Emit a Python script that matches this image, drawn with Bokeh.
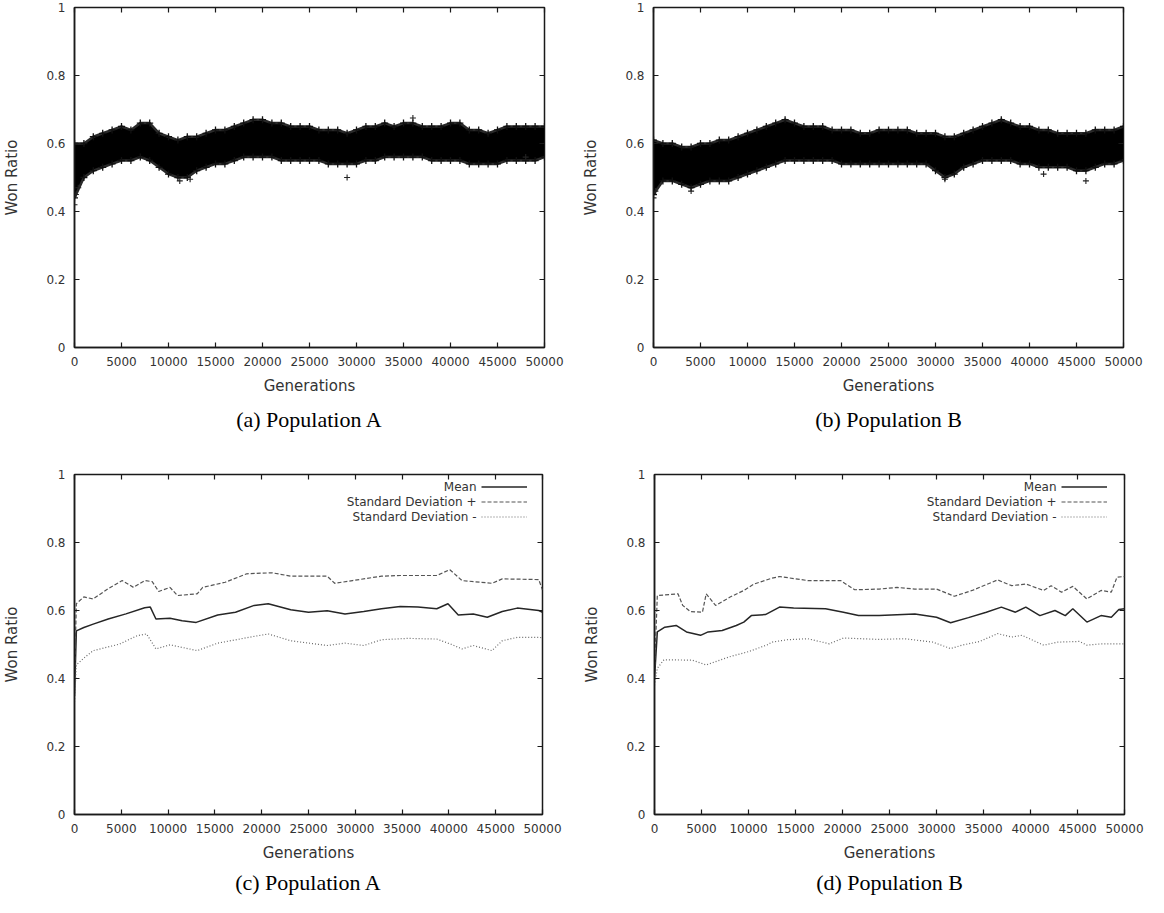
from bokeh.plotting import figure
from bokeh.layouts import column, row
from bokeh.models import (LinearAxis, FixedTicker, CustomJSTickFormatter, Range1d,
                          Title, Legend, LegendItem, Label)
from bokeh.embed import file_html
from bokeh.resources import INLINE

# ---------------- data ----------------
x_ticks = [0, 5000, 10000, 15000, 20000, 25000, 30000, 35000, 40000, 45000, 50000]
x_tick_labels = ["0", "5000", "10000", "15000", "20000", "25000", "30000",
                 "35000", "40000", "45000", "50000"]
y_ticks = [0, 0.2, 0.4, 0.6, 0.8, 1]
y_tick_labels = ["0", "0.2", "0.4", "0.6", "0.8", "1"]

gens = list(range(0, 50001, 1000))

# Population A scatter: envelope of the dense cloud of points
a_upper = [0.60, 0.60, 0.62, 0.63, 0.64, 0.65, 0.64, 0.66, 0.66, 0.63, 0.62,
           0.61, 0.62, 0.62, 0.63, 0.64, 0.64, 0.65, 0.66, 0.67, 0.67,
           0.66, 0.66, 0.65, 0.65, 0.65, 0.64, 0.64, 0.64, 0.63, 0.64,
           0.65, 0.65, 0.66, 0.65, 0.66, 0.66, 0.65, 0.65, 0.65, 0.66,
           0.66, 0.64, 0.64, 0.63, 0.64, 0.65, 0.65, 0.65, 0.65, 0.65]
a_lower = [0.44, 0.50, 0.52, 0.53, 0.54, 0.55, 0.55, 0.56, 0.55, 0.53, 0.51,
           0.50, 0.50, 0.52, 0.53, 0.54, 0.54, 0.55, 0.56, 0.56, 0.56,
           0.56, 0.55, 0.55, 0.55, 0.55, 0.55, 0.54, 0.54, 0.54, 0.54,
           0.55, 0.55, 0.56, 0.56, 0.56, 0.56, 0.56, 0.55, 0.55, 0.55,
           0.55, 0.54, 0.54, 0.54, 0.54, 0.55, 0.55, 0.55, 0.55, 0.56]
a_out_x = [0, 150, 400, 11200, 12300, 29000, 36000, 48000]
a_out_y = [0.42, 0.45, 0.47, 0.49, 0.495, 0.50, 0.675, 0.56]

# Population B scatter envelope
b_upper = [0.61, 0.60, 0.60, 0.59, 0.59, 0.60, 0.60, 0.61, 0.61, 0.62, 0.63,
           0.64, 0.65, 0.66, 0.67, 0.66, 0.65, 0.65, 0.65, 0.64, 0.64,
           0.64, 0.63, 0.63, 0.64, 0.64, 0.64, 0.64, 0.63, 0.63, 0.63,
           0.62, 0.62, 0.63, 0.64, 0.65, 0.66, 0.67, 0.66, 0.65, 0.65,
           0.64, 0.64, 0.63, 0.63, 0.63, 0.63, 0.64, 0.64, 0.64, 0.65]
b_lower = [0.45, 0.49, 0.49, 0.48, 0.47, 0.48, 0.49, 0.49, 0.49, 0.50, 0.51,
           0.52, 0.53, 0.54, 0.55, 0.55, 0.55, 0.55, 0.55, 0.55, 0.54,
           0.54, 0.54, 0.54, 0.54, 0.54, 0.54, 0.54, 0.54, 0.54, 0.52,
           0.50, 0.51, 0.53, 0.54, 0.55, 0.55, 0.55, 0.55, 0.54, 0.54,
           0.53, 0.53, 0.53, 0.53, 0.52, 0.52, 0.53, 0.54, 0.54, 0.55]
b_out_x = [0, 200, 4000, 31000, 41500, 46000]
b_out_y = [0.44, 0.46, 0.46, 0.495, 0.51, 0.49]

# Population A statistics
c_mean_x = [0, 200, 1000, 2000, 3600, 5500, 7500, 8100, 8700, 10200, 11500, 13000,
            15300, 17200, 19200, 20700, 23100, 25000, 27000, 28900, 30900, 32800,
            34800, 36700, 38700, 39900, 41000, 42600, 44100, 45700, 47300, 49600, 50000]
c_mean_y = [0.35, 0.54, 0.55, 0.56, 0.575, 0.59, 0.608, 0.61, 0.575, 0.577, 0.57, 0.565,
            0.587, 0.595, 0.615, 0.62, 0.602, 0.595, 0.599, 0.59, 0.597, 0.605,
            0.612, 0.61, 0.605, 0.62, 0.587, 0.59, 0.58, 0.597, 0.607, 0.60, 0.595]
c_sdp_x = [0, 200, 1000, 2000, 3600, 5100, 6300, 7500, 8300, 9000, 10200, 11000,
           13100, 13700, 16100, 18400, 21100, 23100, 27000, 27800, 29700, 32800,
           34800, 38700, 40100, 41400, 44600, 45700, 49600, 50000]
c_sdp_y = [0.40, 0.62, 0.64, 0.634, 0.664, 0.688, 0.668, 0.688, 0.685, 0.656, 0.668, 0.644,
           0.649, 0.668, 0.683, 0.708, 0.711, 0.701, 0.701, 0.68, 0.688, 0.701,
           0.703, 0.703, 0.72, 0.688, 0.68, 0.693, 0.691, 0.66]
c_sdm_x = [0, 200, 1000, 2000, 4800, 6700, 7700, 8700, 10200, 13100, 15300, 19200,
           20700, 23100, 27000, 28900, 30900, 32800, 35600, 38700, 40200, 41400,
           42600, 44600, 45700, 47300, 49600, 50000]
c_sdm_y = [0.33, 0.44, 0.46, 0.482, 0.501, 0.526, 0.531, 0.487, 0.499, 0.482, 0.504, 0.524,
           0.531, 0.511, 0.497, 0.504, 0.497, 0.514, 0.518, 0.516, 0.501, 0.487,
           0.497, 0.482, 0.511, 0.521, 0.521, 0.52]

# Population B statistics
d_mean_x = [0, 300, 1100, 2300, 3400, 4900, 5700, 7200, 8700, 9500, 10300, 11800,
            13300, 14800, 18200, 20100, 21700, 23900, 27700, 30000, 31500, 33400,
            35300, 36900, 38400, 39500, 41000, 42600, 43700, 44500, 46000, 47500,
            48600, 49400, 50000]
d_mean_y = [0.40, 0.537, 0.551, 0.556, 0.537, 0.527, 0.537, 0.541, 0.556, 0.566, 0.585, 0.588,
            0.61, 0.607, 0.605, 0.595, 0.585, 0.585, 0.59, 0.58, 0.564, 0.579,
            0.595, 0.61, 0.595, 0.61, 0.585, 0.60, 0.585, 0.605, 0.566, 0.585,
            0.58, 0.603, 0.605]
d_sdp_x = [0, 300, 2500, 3000, 3800, 5100, 5500, 6500, 8000, 9500, 10600, 12500,
           13300, 16300, 19800, 21300, 23900, 25800, 27700, 30000, 31900, 33800,
           36500, 38000, 39500, 41400, 42200, 43300, 44500, 46000, 47500, 48600,
           49200, 50000]
d_sdp_y = [0.42, 0.644, 0.649, 0.615, 0.597, 0.595, 0.649, 0.615, 0.639, 0.659, 0.678, 0.695,
           0.70, 0.688, 0.688, 0.661, 0.663, 0.668, 0.663, 0.663, 0.642, 0.659,
           0.69, 0.673, 0.678, 0.659, 0.673, 0.654, 0.671, 0.634, 0.659, 0.654,
           0.698, 0.70]
d_sdm_x = [0, 300, 1000, 4000, 5500, 8000, 10000, 12000, 12500, 14100, 16300, 18600,
           20100, 23900, 26600, 29600, 31500, 32700, 34600, 36500, 38000, 39100,
           41400, 42900, 45200, 46000, 47500, 50000]
d_sdm_y = [0.38, 0.43, 0.455, 0.454, 0.44, 0.464, 0.479, 0.499, 0.507, 0.514, 0.517, 0.502,
           0.519, 0.515, 0.517, 0.507, 0.488, 0.498, 0.509, 0.532, 0.522, 0.527,
           0.498, 0.507, 0.509, 0.498, 0.502, 0.502]

legend_names = ["Mean", "Standard Deviation +", "Standard Deviation -"]
captions = ["(a) Population A", "(b) Population B", "(c) Population A", "(d) Population B"]

# ---------------- styling helpers ----------------
SANS = "DejaVu Sans"
TXT = "#333333"
FRAME = "#1a1a1a"
FW, FH = 470, 340   # plot-frame size in pixels


def base_fig(width, height, bl, br, bt, bb, caption, cap_standoff):
    p = figure(width=width, height=height, x_range=Range1d(0, 50000), y_range=Range1d(0, 1),
               output_backend="svg", toolbar_location=None,
               min_border_left=bl, min_border_right=br, min_border_top=bt, min_border_bottom=bb)
    p.grid.visible = False
    p.background_fill_color = "white"
    p.border_fill_color = "white"
    p.outline_line_color = FRAME
    p.outline_line_width = 1.5

    xf = CustomJSTickFormatter(args=dict(labels=x_tick_labels), code="return labels[index]")
    yf = CustomJSTickFormatter(args=dict(labels=y_tick_labels), code="return labels[index]")
    blank = CustomJSTickFormatter(code="return ''")

    for ax in p.xaxis:
        ax.ticker = FixedTicker(ticks=x_ticks)
        ax.formatter = xf
        ax.axis_label = "Generations"
    for ax in p.yaxis:
        ax.ticker = FixedTicker(ticks=y_ticks)
        ax.formatter = yf
        ax.axis_label = "Won Ratio"
    for ax in list(p.xaxis) + list(p.yaxis):
        ax.major_tick_in = 5
        ax.major_tick_out = 0
        ax.minor_tick_line_color = None
        ax.major_tick_line_color = FRAME
        ax.major_tick_line_width = 1.2
        ax.axis_line_color = FRAME
        ax.axis_line_width = 1.5
        ax.major_label_text_font = SANS
        ax.major_label_text_font_size = "12px"
        ax.major_label_text_color = TXT
        ax.axis_label_text_font = SANS
        ax.axis_label_text_font_size = "15px"
        ax.axis_label_text_font_style = "normal"
        ax.axis_label_text_color = TXT
    p.xaxis.major_label_standoff = 9
    p.xaxis.axis_label_standoff = 8
    p.yaxis.major_label_standoff = 9
    p.yaxis.axis_label_standoff = 22

    # mirrored tick marks (gnuplot style) on top and right
    top = LinearAxis(ticker=FixedTicker(ticks=x_ticks), formatter=blank,
                     major_tick_in=5, major_tick_out=0, minor_tick_line_color=None,
                     major_label_text_font_size="1px", major_label_standoff=0,
                     axis_line_color=None, major_tick_line_color=FRAME, major_tick_line_width=1.2)
    right = LinearAxis(ticker=FixedTicker(ticks=y_ticks), formatter=blank,
                       major_tick_in=5, major_tick_out=0, minor_tick_line_color=None,
                       major_label_text_font_size="1px", major_label_standoff=0,
                       axis_line_color=None, major_tick_line_color=FRAME, major_tick_line_width=1.2)
    p.add_layout(top, "above")
    p.add_layout(right, "right")

    # sub-figure caption below the axis title
    p.add_layout(Title(text=caption, align="center", text_font="Liberation Serif",
                       text_font_size="22px", text_font_style="normal", text_color="black",
                       standoff=cap_standoff), "below")
    return p


def scatter_panel(p, upper, lower, ox, oy):
    p.varea(x=gens, y1=lower, y2=upper, fill_color="black", fill_alpha=1.0)
    p.line(x=gens, y=upper, line_color="#2a2a2a", line_width=2.5)
    p.line(x=gens, y=lower, line_color="#2a2a2a", line_width=2.5)
    p.scatter(x=gens, y=upper, marker="cross", size=7, line_color="#111111", line_width=1.3)
    p.scatter(x=gens, y=lower, marker="cross", size=7, line_color="#111111", line_width=1.3)
    p.scatter(x=ox, y=oy, marker="cross", size=6, line_color="#222222", line_width=1.1)


def stats_panel(p, mx, my, px, py, nx, ny):
    r1 = p.line(mx, my, line_color="#262626", line_width=1.5)
    r2 = p.line(px, py, line_color="#555555", line_width=1.2, line_dash="4 2")
    r3 = p.line(nx, ny, line_color="#6a6a6a", line_width=1.2, line_dash="1 2")
    row_h = 15
    leg = Legend(items=[LegendItem(label=" ", renderers=[r]) for r in (r1, r2, r3)],
                 location=(FW - 63, FH - 5 - 3 * row_h), orientation="vertical",
                 glyph_width=46, glyph_height=row_h, label_height=row_h, label_width=0,
                 label_standoff=0, spacing=0, padding=0, margin=0,
                 label_text_font_size="1px", border_line_color=None,
                 background_fill_alpha=0)
    p.add_layout(leg)
    # text of the legend, right aligned to the left of the samples (gnuplot style)
    for i, name in enumerate(legend_names):
        p.add_layout(Label(x=FW - 68, y=FH - 5 - row_h / 2 - row_h * i,
                           x_units="screen", y_units="screen",
                           text=name, text_align="right", text_baseline="middle",
                           text_font=SANS, text_font_size="12px", text_color=TXT))
    return leg


pa = base_fig(576, 440, 74, 32, 7, 93, captions[0], 15)
scatter_panel(pa, a_upper, a_lower, a_out_x, a_out_y)

pb = base_fig(572, 440, 77, 25, 7, 93, captions[1], 15)
scatter_panel(pb, b_upper, b_lower, b_out_x, b_out_y)

pc = base_fig(576, 457, 72, 34, 34, 83, captions[2], 6)
lc = stats_panel(pc, c_mean_x, c_mean_y, c_sdp_x, c_sdp_y, c_sdm_x, c_sdm_y)

pd = base_fig(572, 457, 78, 24, 34, 83, captions[3], 6)
ld = stats_panel(pd, d_mean_x, d_mean_y, d_sdp_x, d_sdp_y, d_sdm_x, d_sdm_y)

layout = column(row(pa, pb, spacing=0), row(pc, pd, spacing=0), spacing=0)

with open("out.html", "w") as f:
    f.write(file_html(layout, INLINE))
